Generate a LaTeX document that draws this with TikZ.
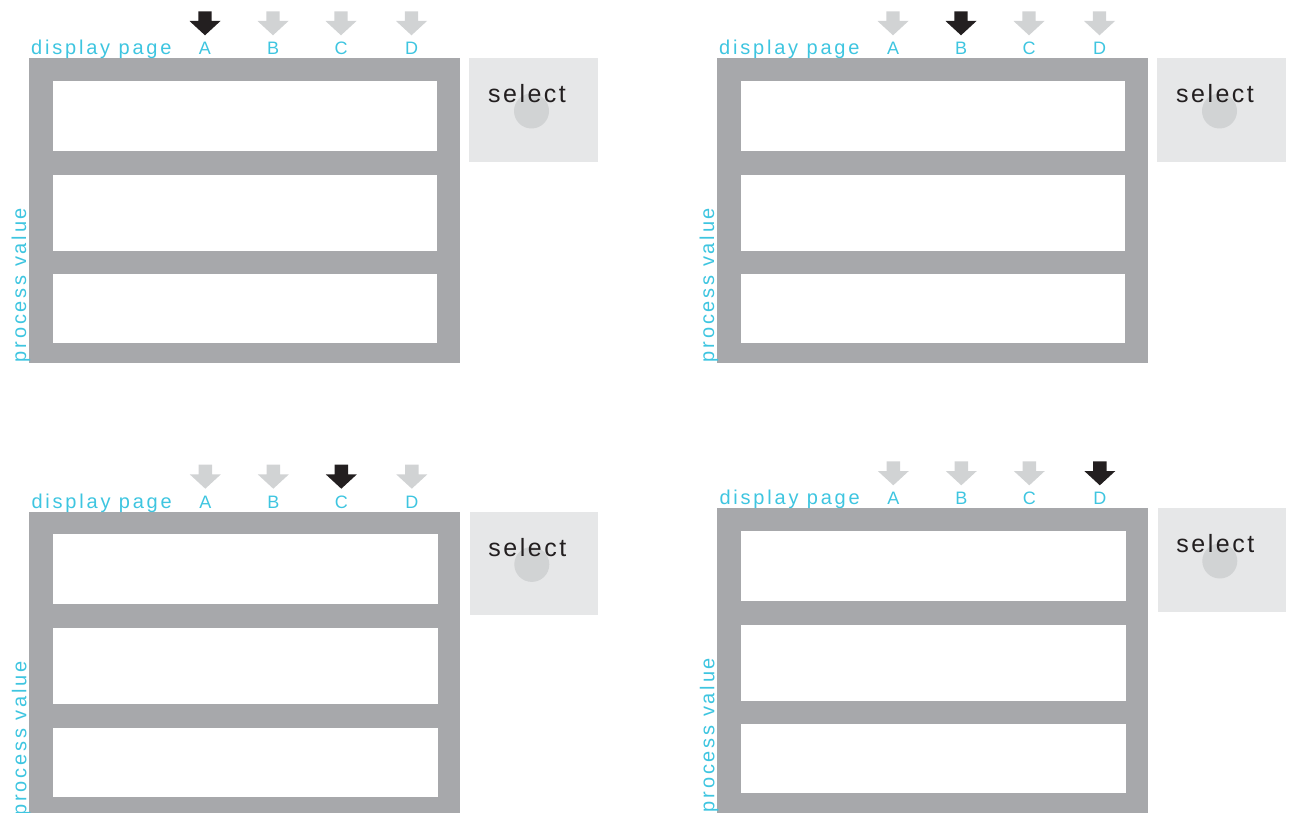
\documentclass[tikz,border=0pt]{standalone}
\usepackage{fontspec}
\setmainfont{Liberation Sans}
\newfontfamily\trackfont[LetterSpace=14]{Liberation Sans}
\newfontfamily\knobfont[LetterSpace=10]{Liberation Sans}

\definecolor{framegray}{HTML}{A7A8AB}
\definecolor{selbg}{HTML}{E6E7E8}
\definecolor{knobgray}{HTML}{D1D3D4}
\definecolor{arrowoff}{HTML}{D1D3D4}
\definecolor{arrowon}{HTML}{231F20}
\definecolor{labelcyan}{HTML}{3EC5E0}

\tikzset{
  pagetext/.style={inner sep=0pt,text=labelcyan,font=\trackfont\fontsize{20}{23}\selectfont},
  lettertext/.style={inner sep=0pt,text=labelcyan,font=\trackfont\fontsize{18}{21}\selectfont},
  selecttext/.style={inner sep=0pt,text=arrowon,font=\knobfont\fontsize{25}{29}\selectfont},
}

% one display: name, left, top, number of the active page
\newcommand{\dpanel}[4]{%
  \begin{scope}[shift={(#2,#3)}]
    \fill [framegray] (0,0) rectangle (431,305); % frame
    \fill [white] (23.7,22.7) rectangle (408.3,92.7);
    \fill [white] (23.7,116.7) rectangle (408.3,192.4);
    \fill [white] (23.7,216) rectangle (408.3,285);
    \fill [selbg] (440.3,0) rectangle (569,103.4); % select button
    \fill [knobgray] (502.5,52.7) circle [radius=17.5];
    \node [selecttext,anchor=base] (#1-select) at (498,44.4) {select};
    \node [pagetext,anchor=base west] (#1-page) at (2,-3.7) {display page};
    \node [pagetext,anchor=base west,rotate=90] (#1-value) at (-3,304) {process value};
    \foreach \pg/\px [count=\i] in {A/176,B/244,C/312,D/382.5}{
      \ifnum\i=#4 \def\acol{arrowon}\else\def\acol{arrowoff}\fi
      \fill [\acol] (\px-6.7,-47) -- (\px+6.7,-47) -- (\px+6.7,-37.3) -- (\px+15.5,-37.3)
        -- (\px,-23) -- (\px-15.5,-37.3) -- (\px-6.7,-37.3) -- cycle;
      \node [lettertext,anchor=base] (#1-\pg) at (\px,-3.7) {\pg};
    }
  \end{scope}}

\begin{document}
\begin{tikzpicture}[x=1pt,y=-1pt]
  \useasboundingbox (0,0) rectangle (1292,813);
  \clip (0,0) rectangle (1292,813);
  \dpanel{pa}{29}{58.3}{1}
  \dpanel{pb}{717}{58.3}{2}
  \dpanel{pc}{29.3}{511.7}{3}
  \dpanel{pd}{717.3}{508.3}{4}
\end{tikzpicture}
\end{document}
